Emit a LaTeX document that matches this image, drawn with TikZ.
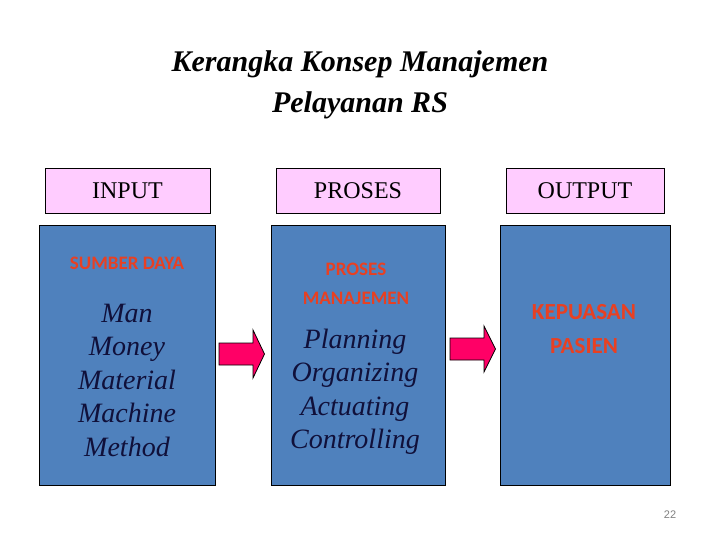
\documentclass[tikz,border=0pt]{standalone}
\usepackage{fontspec}
\setmainfont{Liberation Serif}
\newfontfamily\calib{Carlito}
\newfontfamily\sansf{Liberation Sans}
\definecolor{pinkfill}{RGB}{255,204,255}
\definecolor{bluefill}{RGB}{79,129,189}
\definecolor{redtxt}{RGB}{232,64,34}
\definecolor{navytxt}{RGB}{16,16,58}
\definecolor{arrowfill}{RGB}{255,0,102}
\begin{document}
\begin{tikzpicture}[x=1pt,y=-1pt,
  label box/.style={draw=black,line width=0.9pt,fill=pinkfill,inner sep=0pt,font=\fontsize{24}{28}\selectfont},
  blue box/.style={draw=black,line width=0.9pt,fill=bluefill,inner sep=0pt},
  redhead/.style={text=redtxt,align=center,font=\calib\bfseries\fontsize{19}{29}\selectfont},
  itemlist/.style={text=navytxt,align=center,font=\itshape\fontsize{28}{33.5}\selectfont},
  blockarrow/.style={draw=black,line width=0.8pt,fill=arrowfill,line join=miter}]
\useasboundingbox (0,0) rectangle (720,540);
% title
\node[font=\bfseries\itshape\fontsize{30}{41}\selectfont,align=center] (title) at (360,85) {Kerangka Konsep Manajemen\\Pelayanan RS};
% header boxes
\node[label box,minimum width=165,minimum height=45] (in) at (127.5,190.5) {INPUT};
\node[label box,minimum width=164,minimum height=45] (pr) at (358,190.5) {PROSES};
\node[label box,minimum width=158,minimum height=45] (out) at (585,190.5) {OUTPUT};
% blue boxes
\node[blue box,minimum width=176,minimum height=260] (b1) at (127.5,355.5) {};
\node[blue box,minimum width=174,minimum height=260] (b2) at (358,355.5) {};
\node[blue box,minimum width=170,minimum height=260] (b3) at (585,355.5) {};
% box contents
\node[redhead] (sd) at (127,263) {SUMBER DAYA};
\node[itemlist] (l1) at (127,380) {Man\\Money\\Material\\Machine\\Method};
\node[redhead] (pm) at (356,284) {PROSES\\MANAJEMEN};
\node[itemlist] (l2) at (355,392) {Planning\\Organizing\\Actuating\\Controlling};
\node[redhead,font=\calib\bfseries\fontsize{23}{34}\selectfont] (kp) at (584,329) {KEPUASAN\\PASIEN};
% block arrows
\draw[blockarrow] (219,343) -- (253,343) -- (253,330) -- (264.5,354) -- (253,378) -- (253,365) -- (219,365) -- cycle;
\draw[blockarrow] (450,338) -- (484,338) -- (484,326) -- (495.5,349) -- (484,372) -- (484,360) -- (450,360) -- cycle;
% page number
\node[text=gray,font=\sansf\fontsize{11}{13}\selectfont] (pg) at (670,515) {22};
\end{tikzpicture}
\end{document}
